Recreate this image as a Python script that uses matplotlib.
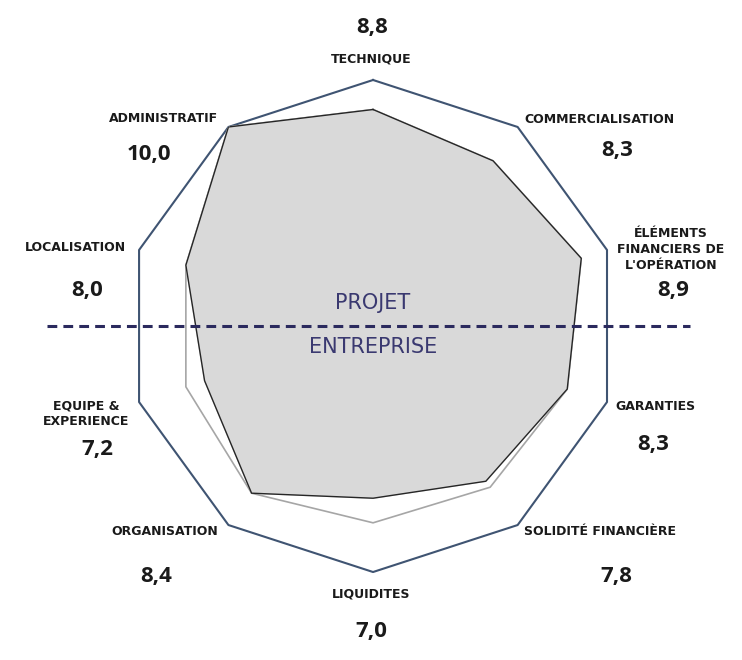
import numpy as np
import matplotlib
matplotlib.use("Agg")
import matplotlib.pyplot as plt

categories = ["TECHNIQUE", "COMMERCIALISATION", "ÉLÉMENTS\nFINANCIERS DE\nL'OPÉRATION",
              "GARANTIES", "SOLIDITÉ FINANCIÈRE", "LIQUIDITES", "ORGANISATION",
              "EQUIPE &\nEXPERIENCE", "LOCALISATION", "ADMINISTRATIF"]
scores = [8.8, 8.3, 8.9, 8.3, 7.8, 7.0, 8.4, 7.2, 8.0, 10.0]
reference = [8.8, 8.3, 8.9, 8.3, 8.1, 8.0, 8.4, 8.0, 8.0, 10.0]
score_labels = ["8,8", "8,3", "8,9", "8,3", "7,8", "7,0", "8,4", "7,2", "8,0", "10,0"]
scale_max = 10.0

# label offsets (points) from the outer vertex: (name dx, dy, value dx, dy)
offs = [(-1, 15, -1, 37.5), (59, 5.5, 72, -17), (46, 0.5, 47.5, -29.5),
        (35, -3, 33.5, -30.5), (59, -5, 71, -37), (-1.5, -16, -1.5, -42.5),
        (-45.5, -5, -52, -37), (-38, -8.5, -30, -34.5), (-46, 2, -37.5, -29),
        (-47, 6, -57, -20)]

plt.rcParams['font.family'] = ['Open Sans', 'DejaVu Sans']
fig = plt.figure(figsize=(7.42, 6.60), dpi=100)
ax = fig.add_axes([0.1712, 0.1333, 0.6631, 0.7455], projection='polar')
ax.set_theta_offset(np.pi / 2)
ax.set_theta_direction(-1)
ax.set_ylim(0, scale_max)
ax.axis('off')

n = len(categories)
ang = np.linspace(0, 2 * np.pi, n, endpoint=False)
ang_c = np.append(ang, ang[0])

ax.plot(ang_c, [scale_max] * (n + 1), color='#3f5472', lw=1.5, clip_on=False)
ax.plot(ang_c, np.append(reference, reference[0]), color='#a6a6a6', lw=1.2)
ax.fill(ang_c, np.append(scores, scores[0]), color='#d9d9d9', zorder=3)
ax.plot(ang_c, np.append(scores, scores[0]), color='#262626', lw=1.0, zorder=4)

# dashed separator
ax.plot([-np.pi / 2, np.pi / 2], [13.25, 12.9], color='#2b2a5e', lw=2.2,
        dashes=(3.2, 2.0), clip_on=False, zorder=5)
ax.text(0, 0.93, "PROJET", ha='center', va='center', fontsize=15,
        family='DejaVu Sans', color='#3a3970', zorder=6)
ax.text(np.pi, 0.85, "ENTREPRISE", ha='center', va='center', fontsize=15,
        family='DejaVu Sans', color='#3a3970', zorder=6)

for a, name, val, (ndx, ndy, vdx, vdy) in zip(ang, categories, score_labels, offs):
    ax.annotate(name, (a, scale_max), xytext=(ndx, ndy), textcoords='offset points',
                ha='center', va='center', fontsize=9, fontweight='bold',
                family='DejaVu Sans', color='#1a1a1a', linespacing=1.3,
                annotation_clip=False)
    ax.annotate(val, (a, scale_max), xytext=(vdx, vdy), textcoords='offset points',
                ha='center', va='center', fontsize=16, fontweight='bold',
                color='#1a1a1a', annotation_clip=False)

fig.savefig("out.png", dpi=100, facecolor='white')
